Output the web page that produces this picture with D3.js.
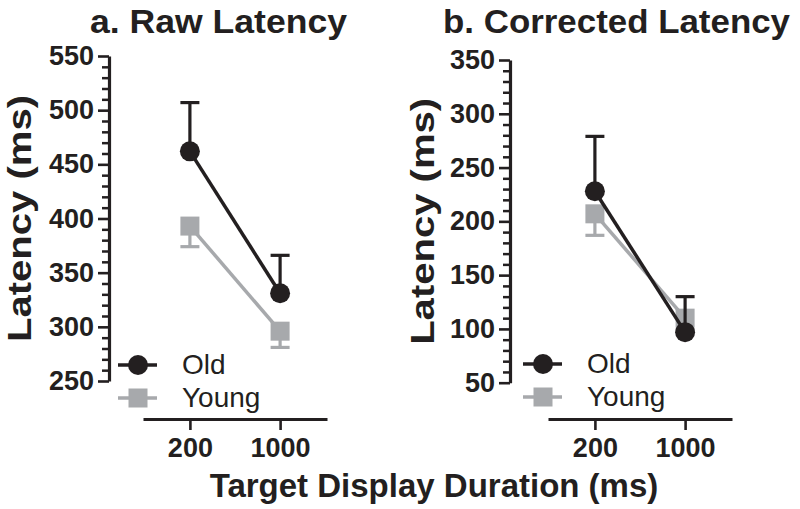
<!DOCTYPE html>
<html>
<head>
<meta charset="utf-8">
<script src="https://cdn.jsdelivr.net/npm/d3@7"></script>
<style>
  html, body { margin: 0; padding: 0; background: #fff; }
  svg { display: block; }
  text { font-family: "Liberation Sans", Arial, Helvetica, sans-serif; fill: #231f20; }
</style>
</head>
<body>
<svg id="chart" width="800" height="509"></svg>
<script>
// ---- data ----
const categories = ["200", "1000"];
const seriesNames = ["Old", "Young"];

const rawOldMean = [462, 331];
const rawOldUpper = [507, 366];
const rawYoungMean = [393, 296];
const rawYoungLower = [374, 281];
const rawTicks = [250, 300, 350, 400, 450, 500, 550];

const corrOldMean = [228, 97];
const corrOldUpper = [279, 130];
const corrYoungMean = [207, 110];
const corrYoungLower = [187, 99];
const corrTicks = [50, 100, 150, 200, 250, 300, 350];

const titles = ["a. Raw Latency", "b. Corrected Latency"];
const yTitle = "Latency (ms)";
const xTitle = "Target Display Duration (ms)";

// ---- style ----
const BLACK = "#231f20";
const GRAY = "#a7a9ac";

const svg = d3.select("#chart");

function panel(opt) {
  const g = svg.append("g");
  const y = d3.scaleLinear().domain(opt.domain).range([opt.yBottom, opt.yTop]);
  const x = d3.scalePoint().domain(categories).range([opt.xLeft, opt.xRight]).padding(0.52);

  // minor ticks
  const minor = d3.range(opt.domain[0], opt.domain[1] + 1, 10).filter(v => v % 50 !== 0);
  g.append("g")
    .attr("transform", `translate(${opt.axisX},0)`)
    .call(d3.axisLeft(y).tickValues(minor).tickSize(7).tickFormat(""))
    .call(a => a.select(".domain").remove())
    .call(a => a.selectAll("line").attr("stroke", BLACK).attr("stroke-width", 2.5));

  // major y axis
  g.append("g")
    .attr("transform", `translate(${opt.axisX},0)`)
    .call(d3.axisLeft(y).tickValues(opt.ticks).tickSize(11).tickSizeOuter(0).tickPadding(4).tickFormat(d3.format("d")))
    .call(a => a.select(".domain").attr("stroke", BLACK).attr("stroke-width", 3.2))
    .call(a => a.selectAll("line").attr("stroke", BLACK).attr("stroke-width", 2.6))
    .call(a => a.selectAll("text").attr("font-size", 27).attr("font-weight", "bold")
      .attr("fill", BLACK).style("font-family", '"Liberation Sans", Arial, sans-serif'));

  // x axis
  g.append("g")
    .attr("transform", `translate(0,${opt.axisY})`)
    .call(d3.axisBottom(x).tickSize(11).tickSizeOuter(0).tickPadding(8))
    .call(a => a.select(".domain").attr("stroke", BLACK).attr("stroke-width", 3.2))
    .call(a => a.selectAll("line").attr("stroke", BLACK).attr("stroke-width", 2.6))
    .call(a => a.selectAll("text").attr("font-size", 27).attr("font-weight", "bold")
      .attr("fill", BLACK).style("font-family", '"Liberation Sans", Arial, sans-serif'));

  // title
  g.append("text")
    .attr("x", opt.titleX).attr("y", 33)
    .attr("text-anchor", "middle")
    .attr("font-size", 33).attr("font-weight", "bold")
    .attr("textLength", opt.titleLen).attr("lengthAdjust", "spacingAndGlyphs")
    .text(opt.title);

  // y title
  const yc = (opt.yTop + opt.yBottom) / 2;
  g.append("text")
    .attr("transform", `translate(${opt.yTitleX},${yc}) rotate(-90)`)
    .attr("text-anchor", "middle")
    .attr("font-size", 33).attr("font-weight", "bold")
    .attr("textLength", 247).attr("lengthAdjust", "spacingAndGlyphs")
    .text(yTitle);

  const line = d3.line().x((d, i) => x(categories[i])).y(d => y(d));
  const cap = 9.5;

  // Young series (gray, squares, lower error)
  const yg = g.append("g");
  opt.youngMean.forEach((m, i) => {
    const cx = x(categories[i]);
    yg.append("line").attr("x1", cx).attr("x2", cx).attr("y1", y(m)).attr("y2", y(opt.youngLower[i]))
      .attr("stroke", GRAY).attr("stroke-width", 3.2);
    yg.append("line").attr("x1", cx - cap).attr("x2", cx + cap).attr("y1", y(opt.youngLower[i])).attr("y2", y(opt.youngLower[i]))
      .attr("stroke", GRAY).attr("stroke-width", 3.2);
  });
  yg.append("path").datum(opt.youngMean).attr("d", line).attr("fill", "none")
    .attr("stroke", GRAY).attr("stroke-width", 3.5);
  yg.selectAll("rect").data(opt.youngMean).join("rect")
    .attr("x", (d, i) => x(categories[i]) - 9.5).attr("y", d => y(d) - 9.5)
    .attr("width", 19).attr("height", 19).attr("fill", GRAY);

  // Old series (black, circles, upper error)
  const og = g.append("g");
  opt.oldMean.forEach((m, i) => {
    const cx = x(categories[i]);
    og.append("line").attr("x1", cx).attr("x2", cx).attr("y1", y(m)).attr("y2", y(opt.oldUpper[i]))
      .attr("stroke", BLACK).attr("stroke-width", 3.2);
    og.append("line").attr("x1", cx - cap).attr("x2", cx + cap).attr("y1", y(opt.oldUpper[i])).attr("y2", y(opt.oldUpper[i]))
      .attr("stroke", BLACK).attr("stroke-width", 3.2);
  });
  og.append("path").datum(opt.oldMean).attr("d", line).attr("fill", "none")
    .attr("stroke", BLACK).attr("stroke-width", 3.5);
  og.selectAll("circle").data(opt.oldMean).join("circle")
    .attr("cx", (d, i) => x(categories[i])).attr("cy", d => y(d)).attr("r", 10).attr("fill", BLACK);

  // legend
  const lg = g.append("g").attr("transform", `translate(${opt.legX},${opt.legY})`);
  seriesNames.forEach((name, i) => {
    const row = lg.append("g").attr("transform", `translate(0,${i * 33})`);
    const col = i === 0 ? BLACK : GRAY;
    row.append("line").attr("x1", 0).attr("x2", 39).attr("y1", 0).attr("y2", 0)
      .attr("stroke", col).attr("stroke-width", 3.5);
    if (i === 0) row.append("circle").attr("cx", 20).attr("cy", 0).attr("r", 10).attr("fill", col);
    else row.append("rect").attr("x", 10.5).attr("y", -9.5).attr("width", 19).attr("height", 19).attr("fill", col);
    row.append("text").attr("x", 64).attr("y", 9).attr("font-size", 28).text(name);
  });
}

panel({
  domain: [250, 550], ticks: rawTicks, yTop: 56, yBottom: 381, axisX: 109,
  xLeft: 143, xRight: 327, axisY: 419,
  title: titles[0], titleX: 218.5, titleLen: 257, yTitleX: 31,
  oldMean: rawOldMean, oldUpper: rawOldUpper, youngMean: rawYoungMean, youngLower: rawYoungLower,
  legX: 118, legY: 365
});

panel({
  domain: [50, 350], ticks: corrTicks, yTop: 60, yBottom: 382.7, axisX: 510,
  xLeft: 548, xRight: 732, axisY: 419,
  title: titles[1], titleX: 616.5, titleLen: 347, yTitleX: 434,
  oldMean: corrOldMean, oldUpper: corrOldUpper, youngMean: corrYoungMean, youngLower: corrYoungLower,
  legX: 523, legY: 364
});

svg.append("text")
  .attr("x", 434).attr("y", 497)
  .attr("text-anchor", "middle")
  .attr("font-size", 33).attr("font-weight", "bold")
  .text(xTitle);
</script>
</body>
</html>
